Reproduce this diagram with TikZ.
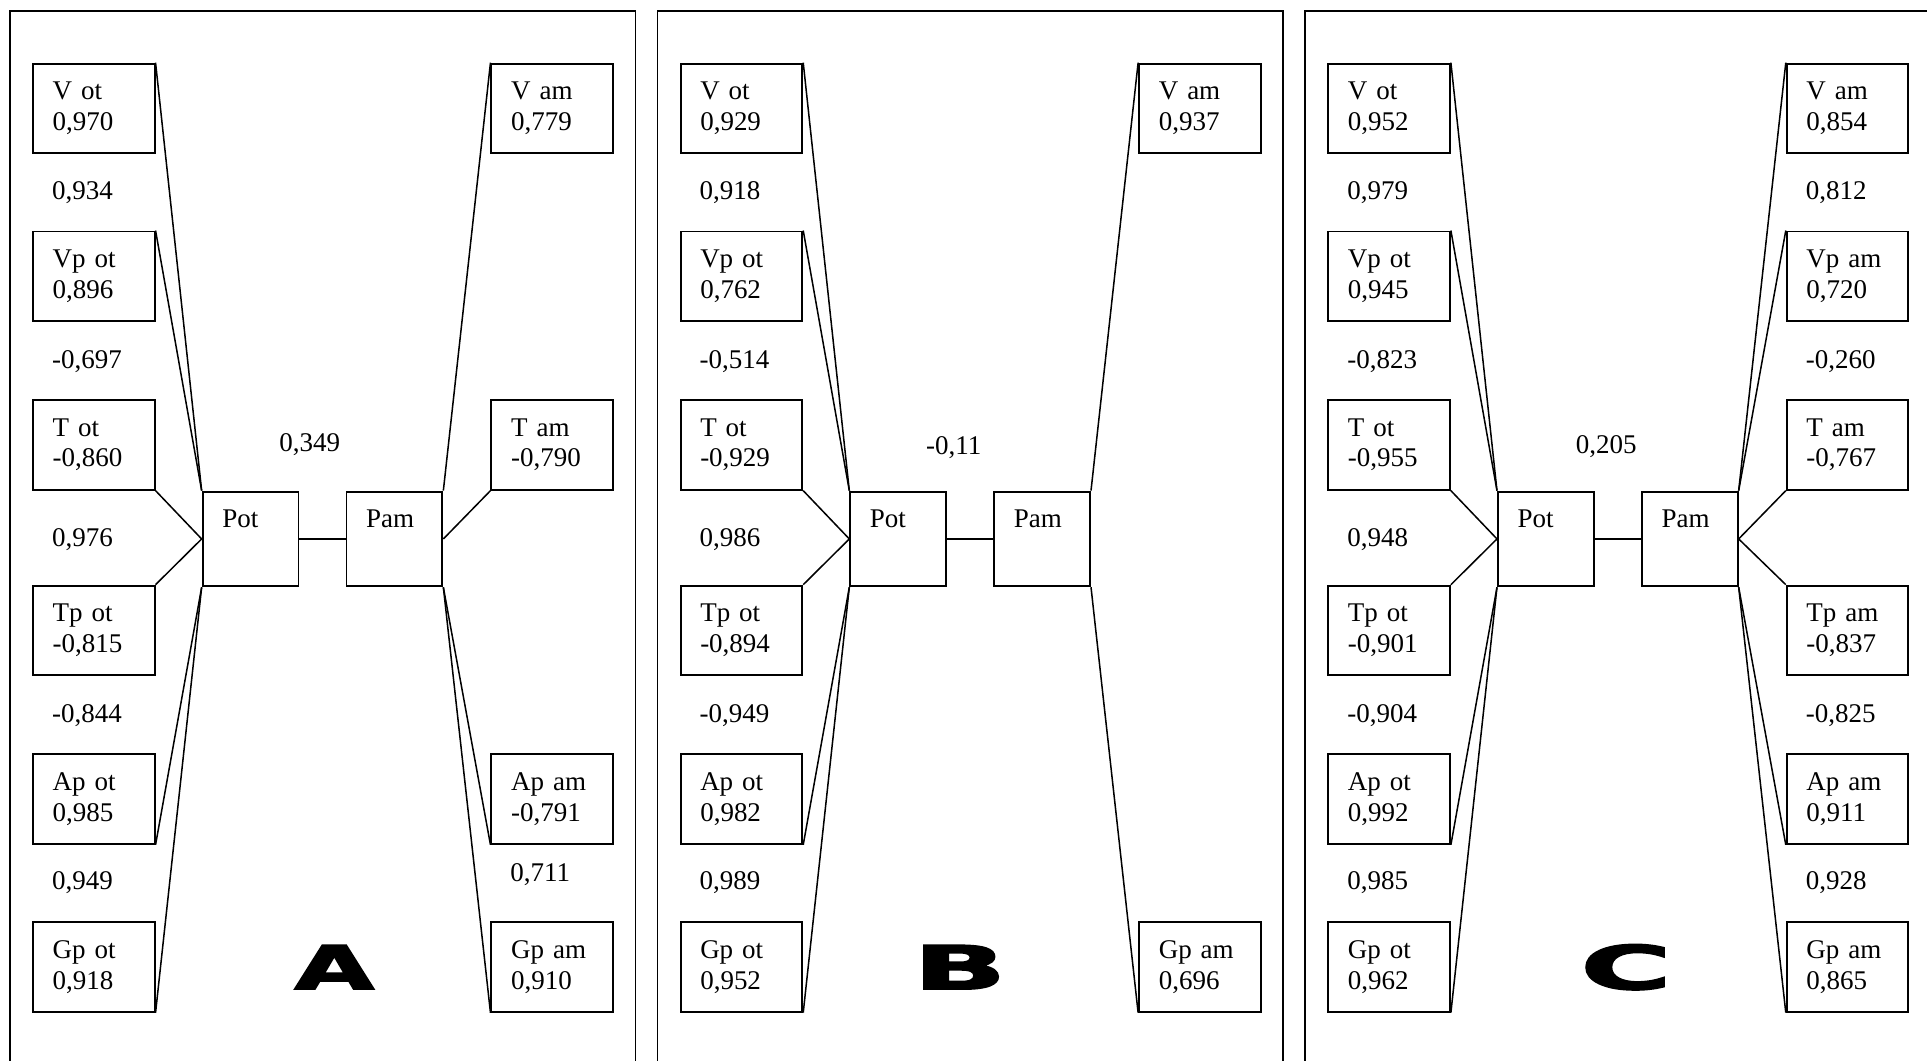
\documentclass[tikz,border=0pt]{standalone}
\usepackage{fontspec}
\setmainfont{Liberation Serif}[WordSpace=0.8]
\newfontfamily\panelfont{DejaVu Sans}[BoldFeatures={FakeBold=2.5}]
\usetikzlibrary{positioning}

\begin{document}
\begin{tikzpicture}[x=0.2mm, y=0.2mm,
    font=\fontsize{12.5pt}{14.2pt}\selectfont,
    box/.style={rectangle, draw, line width=0.9pt, text width=1.34cm, inner xsep=0.32cm, minimum height=1.46cm, align=left, anchor=north west},
    hub/.style={rectangle, draw, line width=0.9pt, text width=0.92cm, inner xsep=0.32cm, minimum height=1.54cm, align=left, text height=0.3cm, text depth=0.68cm},
    value/.style={anchor=west, inner sep=0pt},
    link/.style={line width=0.7pt},
    frame/.style={line width=0.8pt},
    panelletter/.style={font={\fontsize{28pt}{29pt}\panelfont\bfseries}, xscale=1.7, inner sep=0pt}
]
\useasboundingbox (0,0) rectangle (1568,-863);
\clip (0,0) rectangle (1568,-863);

% panel A
\draw[frame] (8,-880) -- (8,-9) -- (517,-9) -- (517,-880);
\node[box] (votA) at (26,-51) {V ot\\0,970};
\node[box, below=1.24cm of votA] (vpotA) {Vp ot\\0,896};
\node[box, below=1.25cm of vpotA] (totA) {T ot\\-0,860};
\node[box, below=1.53cm of totA] (tpotA) {Tp ot\\-0,815};
\node[box, below=1.25cm of tpotA] (apotA) {Ap ot\\0,985};
\node[box, below=1.24cm of apotA] (gpotA) {Gp ot\\0,918};
\node[hub, right=0.75cm of totA.south east, anchor=north west] (potA) {Pot};
\node[hub, right=0.75cm of potA] (pamA) {Pam};
\node[box, right=5.45cm of votA] (vamA) {V am\\0,779};
\node[box, right=5.45cm of totA] (tamA) {T am\\-0,790};
\node[box, right=5.45cm of apotA] (apamA) {Ap am\\-0,791};
\node[box, right=5.45cm of gpotA] (gpamA) {Gp am\\0,910};
\node[value] (rotA1) at (42,-157) {0,934};
\node[value] (rotA2) at (42,-294) {-0,697};
\node[value] (rotA3) at (42,-439) {0,976};
\node[value] (rotA4) at (42,-582) {-0,844};
\node[value] (rotA5) at (42,-718) {0,949};
\node[value] (ramA4) at (415,-712) {0,711};
\node (rA) at (252,-362) {0,349};
\node[panelletter] (letA) at (272,-787) {A};

\draw[link] (votA.north east) -- (potA.north west);
\draw[link] (vpotA.north east) -- (potA.north west);
\draw[link] (totA.south east) -- (potA.west);
\draw[link] (tpotA.north east) -- (potA.west);
\draw[link] (apotA.south east) -- (potA.south west);
\draw[link] (gpotA.south east) -- (potA.south west);
\draw[link] (potA) -- (pamA);
\draw[link] (vamA.north west) -- (pamA.north east);
\draw[link] (tamA.south west) -- (pamA.east);
\draw[link] (apamA.south west) -- (pamA.south east);
\draw[link] (gpamA.south west) -- (pamA.south east);

% panel B
\begin{scope}[shift={(527,0)}]
\draw[frame] (8,-880) -- (8,-9) -- (517,-9) -- (517,-880);
\node[box] (votB) at (26,-51) {V ot\\0,929};
\node[box, below=1.24cm of votB] (vpotB) {Vp ot\\0,762};
\node[box, below=1.25cm of vpotB] (totB) {T ot\\-0,929};
\node[box, below=1.53cm of totB] (tpotB) {Tp ot\\-0,894};
\node[box, below=1.25cm of tpotB] (apotB) {Ap ot\\0,982};
\node[box, below=1.24cm of apotB] (gpotB) {Gp ot\\0,952};
\node[hub, right=0.75cm of totB.south east, anchor=north west] (potB) {Pot};
\node[hub, right=0.75cm of potB] (pamB) {Pam};
\node[box, right=5.45cm of votB] (vamB) {V am\\0,937};
\node[box, right=5.45cm of gpotB] (gpamB) {Gp am\\0,696};
\node[value] (rotB1) at (42,-157) {0,918};
\node[value] (rotB2) at (42,-294) {-0,514};
\node[value] (rotB3) at (42,-439) {0,986};
\node[value] (rotB4) at (42,-582) {-0,949};
\node[value] (rotB5) at (42,-718) {0,989};
\node (rB) at (249,-364) {-0,11};
\node[panelletter, xscale=1.18] (letB) at (254,-787) {B};

\draw[link] (votB.north east) -- (potB.north west);
\draw[link] (vpotB.north east) -- (potB.north west);
\draw[link] (totB.south east) -- (potB.west);
\draw[link] (tpotB.north east) -- (potB.west);
\draw[link] (apotB.south east) -- (potB.south west);
\draw[link] (gpotB.south east) -- (potB.south west);
\draw[link] (potB) -- (pamB);
\draw[link] (vamB.north west) -- (pamB.north east);
\draw[link] (gpamB.south west) -- (pamB.south east);
\end{scope}

% panel C
\begin{scope}[shift={(1054,0)}]
\draw[frame] (8,-880) -- (8,-9) -- (517,-9) -- (517,-880);
\node[box] (votC) at (26,-51) {V ot\\0,952};
\node[box, below=1.24cm of votC] (vpotC) {Vp ot\\0,945};
\node[box, below=1.25cm of vpotC] (totC) {T ot\\-0,955};
\node[box, below=1.53cm of totC] (tpotC) {Tp ot\\-0,901};
\node[box, below=1.25cm of tpotC] (apotC) {Ap ot\\0,992};
\node[box, below=1.24cm of apotC] (gpotC) {Gp ot\\0,962};
\node[hub, right=0.75cm of totC.south east, anchor=north west] (potC) {Pot};
\node[hub, right=0.75cm of potC] (pamC) {Pam};
\node[box, right=5.45cm of votC] (vamC) {V am\\0,854};
\node[box, right=5.45cm of vpotC] (vpamC) {Vp am\\0,720};
\node[box, right=5.45cm of totC] (tamC) {T am\\-0,767};
\node[box, right=5.45cm of tpotC] (tpamC) {Tp am\\-0,837};
\node[box, right=5.45cm of apotC] (apamC) {Ap am\\0,911};
\node[box, right=5.45cm of gpotC] (gpamC) {Gp am\\0,865};
\node[value] (rotC1) at (42,-157) {0,979};
\node[value] (rotC2) at (42,-294) {-0,823};
\node[value] (rotC3) at (42,-439) {0,948};
\node[value] (rotC4) at (42,-582) {-0,904};
\node[value] (rotC5) at (42,-718) {0,985};
\node[value] (ramC1) at (415,-157) {0,812};
\node[value] (ramC2) at (415,-294) {-0,260};
\node[value] (ramC4) at (415,-582) {-0,825};
\node[value] (ramC5) at (415,-718) {0,928};
\node (rC) at (253,-363) {0,205};
\node[panelletter, xscale=1.2] (letC) at (269,-787) {C};

\draw[link] (votC.north east) -- (potC.north west);
\draw[link] (vpotC.north east) -- (potC.north west);
\draw[link] (totC.south east) -- (potC.west);
\draw[link] (tpotC.north east) -- (potC.west);
\draw[link] (apotC.south east) -- (potC.south west);
\draw[link] (gpotC.south east) -- (potC.south west);
\draw[link] (potC) -- (pamC);
\draw[link] (vamC.north west) -- (pamC.north east);
\draw[link] (vpamC.north west) -- (pamC.north east);
\draw[link] (tamC.south west) -- (pamC.east);
\draw[link] (tpamC.north west) -- (pamC.east);
\draw[link] (apamC.south west) -- (pamC.south east);
\draw[link] (gpamC.south west) -- (pamC.south east);
\end{scope}
\end{tikzpicture}
\end{document}
